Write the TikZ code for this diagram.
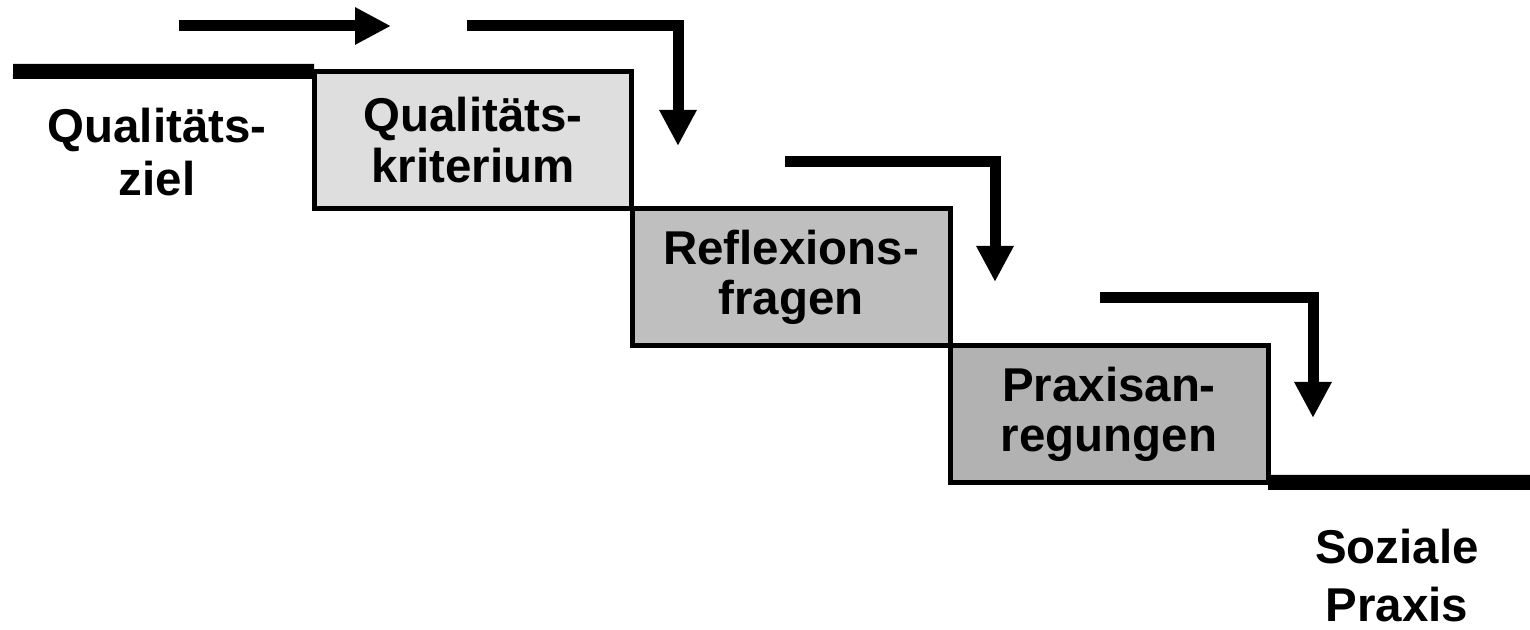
\documentclass[tikz,border=0pt]{standalone}
\usepackage{fontspec}
\setmainfont{Liberation Sans}
\usetikzlibrary{arrows.meta}

\begin{document}
\begin{tikzpicture}[x=0.1mm, y=-0.1mm]

\tikzstyle{stage} = [rectangle, draw=black, line width=0.5mm, minimum width=31.8mm, minimum height=13.7mm, inner sep=0pt, outer sep=0pt, align=center, font=\fontsize{13.5}{14.3}\selectfont\bfseries]
\tikzstyle{side_text} = [inner sep=0pt, align=center, font=\fontsize{13.5}{15}\selectfont\bfseries]
\tikzstyle{stair} = [line width=1.5mm]
\tikzstyle{flow} = [line width=1.1mm, -{Triangle[length=3.6mm, width=3.5mm]}]

\useasboundingbox (0,0) rectangle (1530,630);

%------------------------------------------------------------
	\node[stage, fill=black!13] (krit) at (473,140) {Qualitäts-\\kriterium};
	\node[stage, fill=black!25] (refl) at (791,277) {Reflexions-\\fragen};
	\node[stage, fill=black!30] (prax) at (1109,414) {Praxisan-\\regungen};

%------------------------------------------------------------
	\node[side_text] (ziel)   at (157,152)  {Qualitäts-\\ziel};
	\node[side_text, font=\fontsize{13.5}{16.5}\selectfont\bfseries] (sozial) at (1397,576) {Soziale\\Praxis};

	\coordinate (zielstart) at (13,71.5);
	\coordinate (sozialend) at (1530,482.5);
	\draw[stair] (zielstart) -- (krit.north west);
	\draw[stair] (prax.south east) -- (sozialend);

%------------------------------------------------------------
	\coordinate (a1) at (179,26);
	\coordinate (b1) at (391,26);
	\draw[flow] (a1) -- (b1);

	\coordinate (a2) at (467,26);
	\coordinate (b2) at (678,146);
	\draw[flow] (a2) -| (b2);

	\coordinate (a3) at (785,162);
	\coordinate (b3) at (995,282);
	\draw[flow] (a3) -| (b3);

	\coordinate (a4) at (1100,298);
	\coordinate (b4) at (1313,418);
	\draw[flow] (a4) -| (b4);

\end{tikzpicture}
\end{document}
